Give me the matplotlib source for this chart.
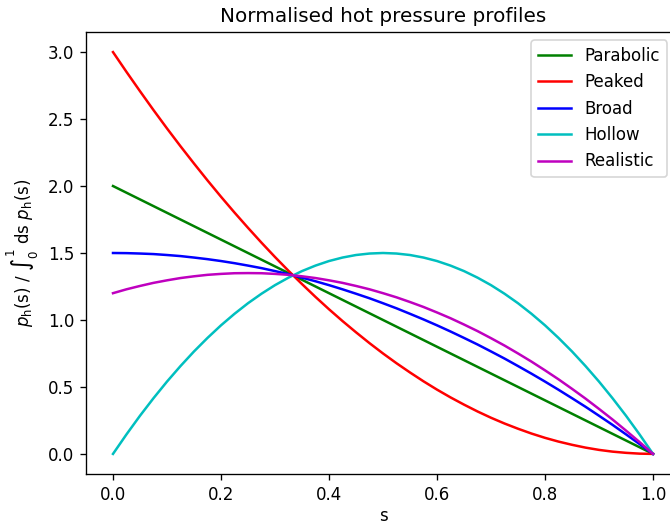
import matplotlib
matplotlib.use("Agg")
import matplotlib.pyplot as plt

# profile values at s = 0, 0.025, ..., 1.0
s = [0.0, 0.025, 0.05, 0.075, 0.1, 0.125, 0.15, 0.175, 0.2, 0.225, 0.25,
     0.275, 0.3, 0.325, 0.35, 0.375, 0.4, 0.425, 0.45, 0.475, 0.5,
     0.525, 0.55, 0.575, 0.6, 0.625, 0.65, 0.675, 0.7, 0.725, 0.75,
     0.775, 0.8, 0.825, 0.85, 0.875, 0.9, 0.925, 0.95, 0.975, 1.0]
parabolic = [2.0, 1.95, 1.9, 1.85, 1.8, 1.75, 1.7, 1.65, 1.6, 1.55, 1.5,
             1.45, 1.4, 1.35, 1.3, 1.25, 1.2, 1.15, 1.1, 1.05, 1.0,
             0.95, 0.9, 0.85, 0.8, 0.75, 0.7, 0.65, 0.6, 0.55, 0.5,
             0.45, 0.4, 0.35, 0.3, 0.25, 0.2, 0.15, 0.1, 0.05, 0.0]
peaked = [3.0, 2.852, 2.708, 2.567, 2.43, 2.297, 2.168, 2.042, 1.92, 1.802, 1.688,
          1.577, 1.47, 1.367, 1.268, 1.172, 1.08, 0.992, 0.908, 0.827, 0.75,
          0.677, 0.608, 0.542, 0.48, 0.422, 0.368, 0.317, 0.27, 0.227, 0.188,
          0.152, 0.12, 0.092, 0.068, 0.047, 0.03, 0.017, 0.008, 0.002, 0.0]
broad = [1.5, 1.499, 1.496, 1.492, 1.485, 1.477, 1.466, 1.454, 1.44, 1.424, 1.406,
         1.387, 1.365, 1.342, 1.316, 1.289, 1.26, 1.229, 1.196, 1.162, 1.125,
         1.087, 1.046, 1.004, 0.96, 0.914, 0.866, 0.817, 0.765, 0.712, 0.656,
         0.599, 0.54, 0.479, 0.416, 0.352, 0.285, 0.217, 0.146, 0.074, 0.0]
hollow = [0.0, 0.146, 0.285, 0.416, 0.54, 0.656, 0.765, 0.866, 0.96, 1.046, 1.125,
          1.196, 1.26, 1.316, 1.365, 1.406, 1.44, 1.466, 1.485, 1.496, 1.5,
          1.496, 1.485, 1.466, 1.44, 1.406, 1.365, 1.316, 1.26, 1.196, 1.125,
          1.046, 0.96, 0.866, 0.765, 0.656, 0.54, 0.416, 0.285, 0.146, 0.0]
realistic = [1.2, 1.229, 1.254, 1.277, 1.296, 1.313, 1.326, 1.337, 1.344, 1.349, 1.35,
             1.349, 1.344, 1.337, 1.326, 1.313, 1.296, 1.277, 1.254, 1.229, 1.2,
             1.169, 1.134, 1.097, 1.056, 1.013, 0.966, 0.917, 0.864, 0.809, 0.75,
             0.689, 0.624, 0.557, 0.486, 0.413, 0.336, 0.257, 0.174, 0.089, 0.0]

series = [("Parabolic", parabolic, "g"),
          ("Peaked", peaked, "r"),
          ("Broad", broad, "b"),
          ("Hollow", hollow, "c"),
          ("Realistic", realistic, "m")]

# rendered at 120 dpi so text and lines come out 1.2x larger, like the reference
fig = plt.figure(figsize=(670 / 120, 526 / 120), dpi=120)
ax = fig.add_axes([86 / 670, 1 - 474 / 526, (680 - 86) / 670, (474 - 32) / 526])

for name, vals, col in series:
    ax.plot(s, vals, color=col, label=name)

ax.set_xlim(-0.05, 1.05)
ax.set_ylim(-0.15, 3.15)
ax.set_xlabel("s", labelpad=2)
ax.set_ylabel(r"$p_\mathrm{h}$(s) / $\int_0^1$ ds $p_\mathrm{h}$(s)")
ax.set_title("Normalised hot pressure profiles")
ax.legend(loc="upper right", bbox_to_anchor=(0.992, 1.0))

fig.savefig("out.png", dpi=120)
